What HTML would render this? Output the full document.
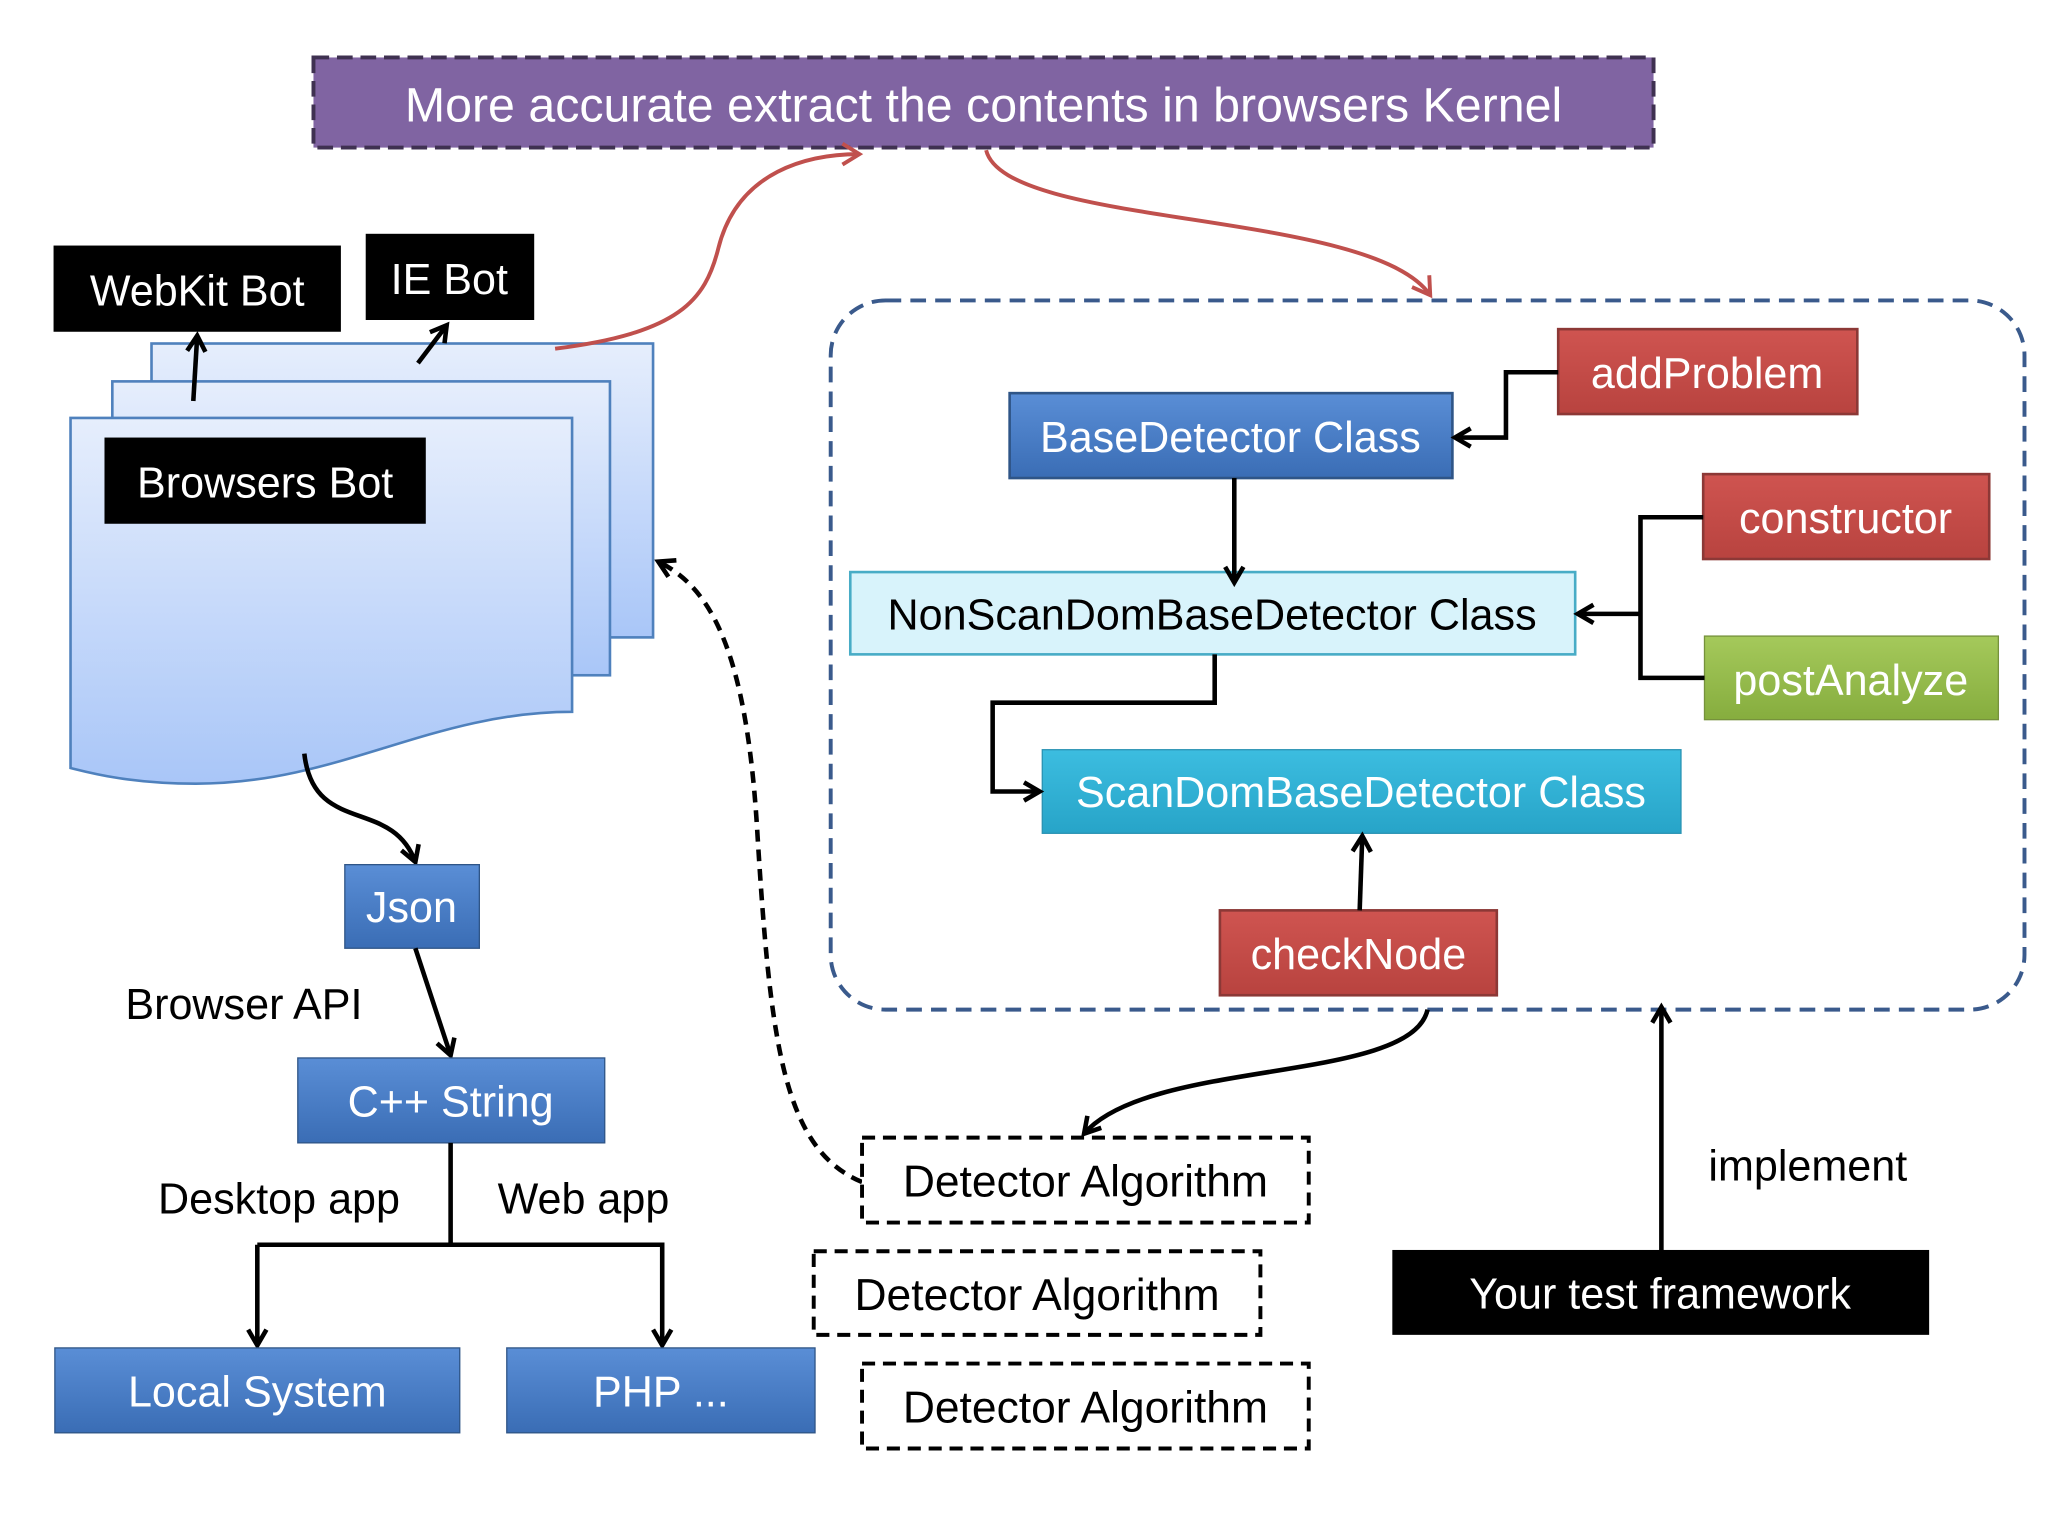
<!DOCTYPE html>
<html><head><meta charset="utf-8"><style>
html,body{margin:0;padding:0;background:#fff;}
svg{display:block;}
text{font-family:"Liberation Sans","DejaVu Sans",sans-serif;}
</style></head><body>
<svg width="2048" height="1536" viewBox="0 0 1568 1176" xmlns="http://www.w3.org/2000/svg">
<defs>
<linearGradient id="pg" x1="0" y1="0" x2="0" y2="1"><stop offset="0" stop-color="#e6eefc"/><stop offset="1" stop-color="#a9c6f8"/></linearGradient>
<linearGradient id="bl" x1="0" y1="0" x2="0" y2="1"><stop offset="0" stop-color="#5a8ed6"/><stop offset="1" stop-color="#3a6db5"/></linearGradient>
<linearGradient id="rd" x1="0" y1="0" x2="0" y2="1"><stop offset="0" stop-color="#cf5450"/><stop offset="1" stop-color="#b8433f"/></linearGradient>
<linearGradient id="cy" x1="0" y1="0" x2="0" y2="1"><stop offset="0" stop-color="#3cbde0"/><stop offset="1" stop-color="#27a4c8"/></linearGradient>
<linearGradient id="gr" x1="0" y1="0" x2="0" y2="1"><stop offset="0" stop-color="#a5c95b"/><stop offset="1" stop-color="#86ad3e"/></linearGradient>
<marker id="ak" markerWidth="20" markerHeight="20" refX="16" refY="10" orient="auto" markerUnits="userSpaceOnUse" viewBox="0 0 20 20"><path d="M4,3 L16,10 L4,17" fill="none" stroke="#000" stroke-width="3.5"/></marker>
<marker id="ar" markerWidth="22" markerHeight="22" refX="17" refY="11" orient="auto" markerUnits="userSpaceOnUse" viewBox="0 0 22 22"><path d="M4,3 L17,11 L4,19" fill="none" stroke="#c0504d" stroke-width="3"/></marker>
</defs>

<!-- title -->
<rect x="240" y="44" width="1026" height="69" fill="#8064a2" stroke="#3f3151" stroke-width="3" stroke-dasharray="12,6"/>
<text x="753" y="93" font-size="37" fill="#fff" text-anchor="middle">More accurate extract the contents in browsers Kernel</text>

<!-- pages -->
<rect x="116" y="263" width="384" height="225" fill="url(#pg)" stroke="#4f81bd" stroke-width="2"/>
<rect x="86" y="292" width="381" height="225" fill="url(#pg)" stroke="#4f81bd" stroke-width="2"/>
<path d="M54,320 H438 V545 C330,545 260,600 150,600 C100,600 70,592 54,588 Z" fill="url(#pg)" stroke="#4f81bd" stroke-width="2"/>

<!-- red curves -->
<path d="M425,267 C520,255 540,230 550,190 C565,130 620,118 658,118" fill="none" stroke="#c0504d" stroke-width="3" marker-end="url(#ar)"/>
<path d="M755,115 C770,175 1050,160 1095,226" fill="none" stroke="#c0504d" stroke-width="3" marker-end="url(#ar)"/>

<rect x="41" y="188" width="220" height="66" fill="#000"/>
<text x="151" y="234" font-size="33" fill="#fff" text-anchor="middle">WebKit Bot</text>
<rect x="280" y="179" width="129" height="66" fill="#000"/>
<text x="344" y="225" font-size="33" fill="#fff" text-anchor="middle">IE Bot</text>
<rect x="80" y="335" width="246" height="66" fill="#000"/>
<text x="203" y="381" font-size="33" fill="#fff" text-anchor="middle">Browsers Bot</text>

<path d="M148,307 L151,257" stroke="#000" stroke-width="3.5" fill="none" marker-end="url(#ak)"/>
<path d="M320,278 L342,249" stroke="#000" stroke-width="3.5" fill="none" marker-end="url(#ak)"/>

<!-- dashed container -->
<rect x="636" y="230" width="914" height="543" rx="42" fill="none" stroke="#3a5a8c" stroke-width="3" stroke-dasharray="12,7"/>

<rect x="1193" y="252" width="229" height="65" fill="url(#rd)" stroke="#8c3836" stroke-width="2"/>
<text x="1307" y="297" font-size="33" fill="#fff" text-anchor="middle">addProblem</text>
<rect x="773" y="301" width="339" height="65" fill="url(#bl)" stroke="#2f5587" stroke-width="2"/>
<text x="942" y="346" font-size="33" fill="#fff" text-anchor="middle">BaseDetector Class</text>
<rect x="1304" y="363" width="219" height="65" fill="url(#rd)" stroke="#8c3836" stroke-width="2"/>
<text x="1413" y="408" font-size="33" fill="#fff" text-anchor="middle">constructor</text>
<rect x="651" y="438" width="555" height="63" fill="#d8f3fb" stroke="#48acc6" stroke-width="2"/>
<text x="928" y="482" font-size="33" fill="#000" text-anchor="middle">NonScanDomBaseDetector Class</text>
<rect x="1305" y="487" width="225" height="64" fill="url(#gr)" stroke="#76923c" stroke-width="1"/>
<text x="1417" y="532" font-size="33" fill="#fff" text-anchor="middle">postAnalyze</text>
<rect x="798" y="574" width="489" height="64" fill="url(#cy)" stroke="#2a93b3" stroke-width="1"/>
<text x="1042" y="618" font-size="33" fill="#fff" text-anchor="middle">ScanDomBaseDetector Class</text>
<rect x="934" y="697" width="212" height="65" fill="url(#rd)" stroke="#8c3836" stroke-width="2"/>
<text x="1040" y="742" font-size="33" fill="#fff" text-anchor="middle">checkNode</text>

<!-- connectors inside -->
<path d="M1193,285 H1153 V335 H1114" fill="none" stroke="#000" stroke-width="3.5" marker-end="url(#ak)"/>
<path d="M945,366 V446" fill="none" stroke="#000" stroke-width="3.5" marker-end="url(#ak)"/>
<path d="M1304,396 H1256 V519 H1305" fill="none" stroke="#000" stroke-width="3.5"/>
<path d="M1256,470 H1208" fill="none" stroke="#000" stroke-width="3.5" marker-end="url(#ak)"/>
<path d="M930,501 V538 H760 V606 H796" fill="none" stroke="#000" stroke-width="3.5" marker-end="url(#ak)"/>
<path d="M1041,697 L1043,640" fill="none" stroke="#000" stroke-width="3.5" marker-end="url(#ak)"/>

<!-- black curve to detector -->
<path d="M1093,773 C1080,830 880,810 830,868" fill="none" stroke="#000" stroke-width="3.5" marker-end="url(#ak)"/>
<!-- dashed curve -->
<path d="M660,905 C600,880 590,800 580,640 C572,500 545,450 504,430" fill="none" stroke="#000" stroke-width="3.5" stroke-dasharray="9,6" marker-end="url(#ak)"/>

<rect x="660" y="871" width="342" height="65" fill="#fff" stroke="#000" stroke-width="3" stroke-dasharray="10,6"/>
<text x="831" y="916" font-size="34" fill="#000" text-anchor="middle">Detector Algorithm</text>
<rect x="623" y="958" width="342" height="64" fill="#fff" stroke="#000" stroke-width="3" stroke-dasharray="10,6"/>
<text x="794" y="1003" font-size="34" fill="#000" text-anchor="middle">Detector Algorithm</text>
<rect x="660" y="1044" width="342" height="65" fill="#fff" stroke="#000" stroke-width="3" stroke-dasharray="10,6"/>
<text x="831" y="1089" font-size="34" fill="#000" text-anchor="middle">Detector Algorithm</text>

<!-- left flow -->
<path d="M233,577 C240,640 300,610 318,660" fill="none" stroke="#000" stroke-width="3.5" marker-end="url(#ak)"/>
<rect x="264" y="662" width="103" height="64" fill="url(#bl)" stroke="#2f5587" stroke-width="1"/>
<text x="315" y="706" font-size="33" fill="#fff" text-anchor="middle">Json</text>
<text x="96" y="780" font-size="33" fill="#000">Browser API</text>
<path d="M318,726 L345,808" fill="none" stroke="#000" stroke-width="3.5" marker-end="url(#ak)"/>
<rect x="228" y="810" width="235" height="65" fill="url(#bl)" stroke="#2f5587" stroke-width="1"/>
<text x="345" y="855" font-size="33" fill="#fff" text-anchor="middle">C++ String</text>
<text x="121" y="929" font-size="33" fill="#000">Desktop app</text>
<text x="381" y="929" font-size="33" fill="#000">Web app</text>
<path d="M345,875 V953" fill="none" stroke="#000" stroke-width="3.5"/>
<path d="M197,953 H507 V1030" fill="none" stroke="#000" stroke-width="3.5" marker-end="url(#ak)"/>
<path d="M197,953 V1030" fill="none" stroke="#000" stroke-width="3.5" marker-end="url(#ak)"/>
<rect x="42" y="1032" width="310" height="65" fill="url(#bl)" stroke="#2f5587" stroke-width="1"/>
<text x="197" y="1077" font-size="33" fill="#fff" text-anchor="middle">Local System</text>
<rect x="388" y="1032" width="236" height="65" fill="url(#bl)" stroke="#2f5587" stroke-width="1"/>
<text x="506" y="1077" font-size="33" fill="#fff" text-anchor="middle">PHP ...</text>

<!-- framework -->
<path d="M1272,957 V771" fill="none" stroke="#000" stroke-width="3.5" marker-end="url(#ak)"/>
<text x="1308" y="904" font-size="33" fill="#000">implement</text>
<rect x="1066" y="957" width="411" height="65" fill="#000"/>
<text x="1271" y="1002" font-size="33" fill="#fff" text-anchor="middle">Your test framework</text>
</svg>
</body></html>
